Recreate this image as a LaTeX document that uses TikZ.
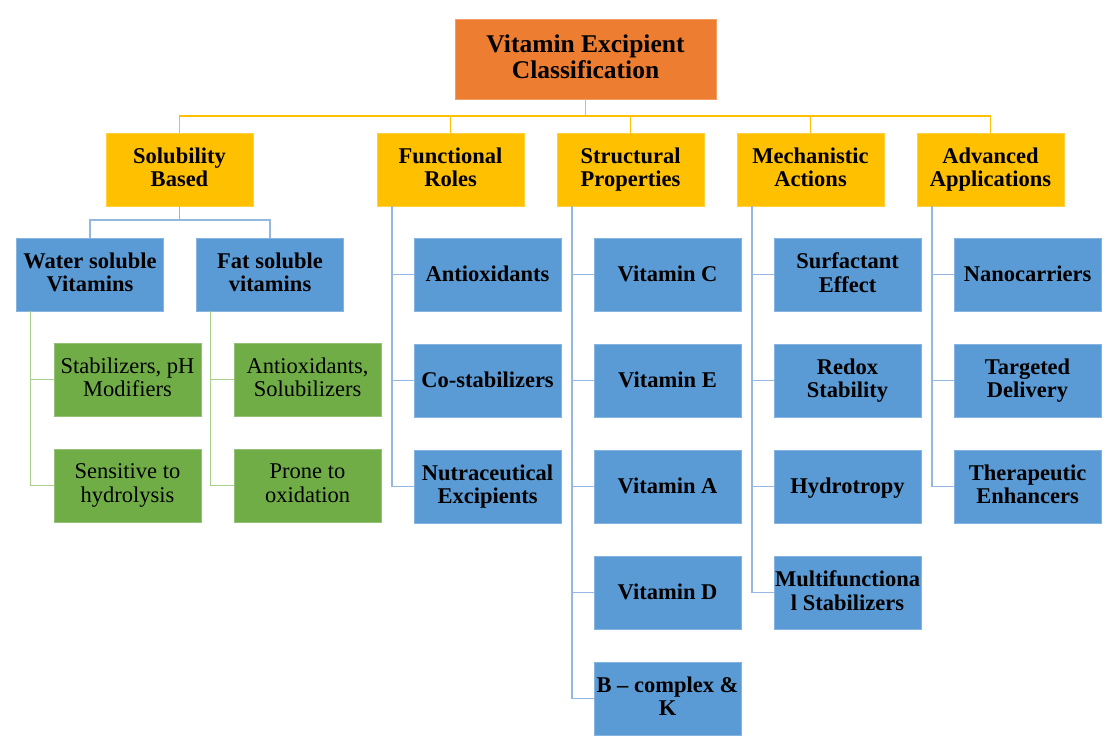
\documentclass[tikz,border=0pt]{standalone}
\usepackage{fontspec}
\setmainfont{Liberation Serif}
\usetikzlibrary{positioning}

\definecolor{rootorange}{HTML}{ED7D31}
\definecolor{catyellow}{HTML}{FFC000}
\definecolor{itemblue}{HTML}{5B9BD5}
\definecolor{notegreen}{HTML}{70AD47}
\definecolor{linkblue}{HTML}{95B8E3}
\definecolor{linkgreen}{HTML}{A9D18E}
\newcommand{\boxstrut}{\rule[-2.2pt]{0pt}{11.8pt}}

\begin{document}
\begin{tikzpicture}[
  node distance=16.5pt and 16.5pt,
  box/.style={draw=#1!75!white, fill=#1, line width=0.5pt, align=center,
              inner sep=0pt, outer sep=0pt, minimum width=73.5pt, minimum height=36.5pt,
              execute at begin node=\boxstrut, execute at end node=\boxstrut,
              font=\fontsize{11.25}{11.8}\selectfont\bfseries},
  rootbox/.style={box=rootorange, minimum width=130.5pt, minimum height=40pt,
                  font=\fontsize{12.75}{13}\selectfont\bfseries},
  notebox/.style={box=notegreen, font=\fontsize{11.25}{11.8}\selectfont},
  ylink/.style={draw=catyellow, line width=0.8pt},
  blink/.style={draw=linkblue, line width=0.8pt},
  glink/.style={draw=linkgreen, line width=0.8pt}
]
\useasboundingbox (0,0) rectangle (558.5pt,-373pt);

\node[rootbox] (root) at (292.75pt,-29.5pt) {Vitamin Excipient\\Classification};

\node[box=catyellow] (struct) [below=17pt of root, xshift=22.5pt] {Structural\\Properties};
\node[box=catyellow] (func) [left=of struct] {Functional\\Roles};
\node[box=catyellow] (sol) [left=62pt of func] {Solubility\\Based};
\node[box=catyellow] (mech) [right=of struct] {Mechanistic\\Actions};
\node[box=catyellow] (adv) [right=of mech] {Advanced\\Applications};

\node[box=itemblue] (water) [below=16pt of sol, xshift=-44.75pt] {Water soluble\\Vitamins};
\node[box=itemblue] (fat) [right=of water] {Fat soluble\\vitamins};

\node[notebox] (stab) [below=16pt of water, xshift=18.75pt] {Stabilizers, pH\\Modifiers};
\node[notebox] (sens) [below=of stab] {Sensitive to\\hydrolysis};
\node[notebox] (solub) [below=16pt of fat, xshift=18.75pt] {Antioxidants,\\Solubilizers};
\node[notebox] (prone) [below=of solub] {Prone to\\oxidation};

\node[box=itemblue] (anti) [below=16pt of func, xshift=18.5pt] {Antioxidants};
\node[box=itemblue] (costab) [below=of anti] {Co-stabilizers};
\node[box=itemblue] (nutra) [below=of costab] {Nutraceutical\\Excipients};

\node[box=itemblue] (vitc) [below=16pt of struct, xshift=18.5pt] {Vitamin C};
\node[box=itemblue] (vite) [below=of vitc] {Vitamin E};
\node[box=itemblue] (vita) [below=of vite] {Vitamin A};
\node[box=itemblue] (vitd) [below=of vita] {Vitamin D};
\node[box=itemblue] (vitbk) [below=of vitd] {B -- complex \&\\K};

\node[box=itemblue] (surf) [below=16pt of mech, xshift=18.5pt] {Surfactant\\Effect};
\node[box=itemblue] (redox) [below=of surf] {Redox\\Stability};
\node[box=itemblue] (hydro) [below=of redox] {Hydrotropy};
\node[box=itemblue] (multi) [below=of hydro] {Multifunctiona\\l Stabilizers};

\node[box=itemblue] (nano) [below=16pt of adv, xshift=18.5pt] {Nanocarriers};
\node[box=itemblue] (target) [below=of nano] {Targeted\\Delivery};
\node[box=itemblue] (thera) [below=of target] {Therapeutic\\Enhancers};

\draw[ylink] (root.south) -- ++(0,-8.5pt) -| (sol.north);
\draw[ylink] (root.south) -- ++(0,-8.5pt) -| (func.north);
\draw[ylink] (root.south) -- ++(0,-8.5pt) -| (struct.north);
\draw[ylink] (root.south) -- ++(0,-8.5pt) -| (mech.north);
\draw[ylink] (root.south) -- ++(0,-8.5pt) -| (adv.north);

\draw[blink] (sol.south) -- ++(0,-7pt) -| (water.north);
\draw[blink] (sol.south) -- ++(0,-7pt) -| (fat.north);

\draw[glink] ([xshift=7pt]water.south west) |- (stab.west);
\draw[glink] ([xshift=7pt]water.south west) |- (sens.west);
\draw[glink] ([xshift=7pt]fat.south west) |- (solub.west);
\draw[glink] ([xshift=7pt]fat.south west) |- (prone.west);

\draw[blink] ([xshift=7.5pt]func.south west) |- (anti.west);
\draw[blink] ([xshift=7.5pt]func.south west) |- (costab.west);
\draw[blink] ([xshift=7.5pt]func.south west) |- (nutra.west);

\draw[blink] ([xshift=7.5pt]struct.south west) |- (vitc.west);
\draw[blink] ([xshift=7.5pt]struct.south west) |- (vite.west);
\draw[blink] ([xshift=7.5pt]struct.south west) |- (vita.west);
\draw[blink] ([xshift=7.5pt]struct.south west) |- (vitd.west);
\draw[blink] ([xshift=7.5pt]struct.south west) |- (vitbk.west);

\draw[blink] ([xshift=7.5pt]mech.south west) |- (surf.west);
\draw[blink] ([xshift=7.5pt]mech.south west) |- (redox.west);
\draw[blink] ([xshift=7.5pt]mech.south west) |- (hydro.west);
\draw[blink] ([xshift=7.5pt]mech.south west) |- (multi.west);

\draw[blink] ([xshift=7.5pt]adv.south west) |- (nano.west);
\draw[blink] ([xshift=7.5pt]adv.south west) |- (target.west);
\draw[blink] ([xshift=7.5pt]adv.south west) |- (thera.west);
\end{tikzpicture}
\end{document}
